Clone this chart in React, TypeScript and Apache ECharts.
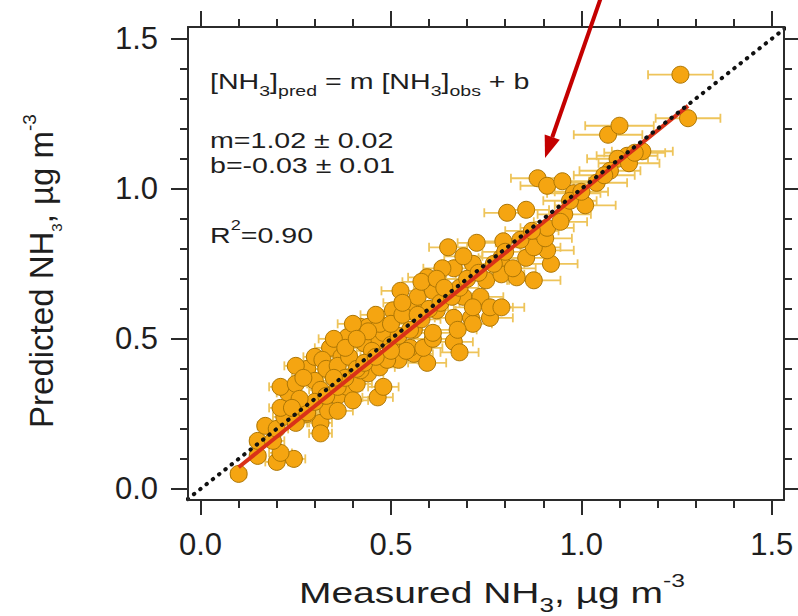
import React, { useEffect, useRef } from "react";
import * as echarts from "echarts";

// ---- data (x = measured, y = predicted, xError = half-width of horizontal error bar)
const measured = [
  0.10, 0.15, 0.20, 0.245, 0.21, 0.15, 0.19, 0.17, 0.20, 0.22,
  0.21, 0.23, 0.21, 0.25, 0.28, 0.25, 0.30, 0.34, 0.385, 0.42,
  0.37, 0.43, 0.47, 0.51, 0.44, 0.40, 0.48, 0.32, 0.36, 0.385,
  0.41, 0.44, 0.47, 0.52, 0.56, 0.55, 0.49, 0.42, 0.30, 0.33,
  0.36, 0.39, 0.45, 0.47, 0.44, 0.505, 0.56, 0.525, 0.57, 0.61,
  0.62, 0.315, 0.315, 0.28, 0.335, 0.36, 0.40, 0.465, 0.48, 0.315,
  0.595, 0.54, 0.585, 0.61, 0.61, 0.56, 0.665, 0.68, 0.665, 0.71,
  0.76, 0.715, 0.675, 0.69, 0.735, 0.76, 0.715, 0.79, 0.75, 0.79,
  0.83, 0.875, 0.665, 0.715, 0.69, 0.79, 0.82, 0.855, 0.92, 0.91,
  0.875, 0.905, 0.795, 0.725, 0.65, 0.91, 0.595, 0.635, 0.805, 0.855,
  0.885, 0.91, 0.95, 0.98, 1.01, 0.955, 1.07, 1.10, 1.16, 1.12,
  1.095, 1.125, 1.075, 1.26, 1.28, 0.25, 0.28, 0.30, 0.33, 0.36,
  0.38, 0.41, 0.43, 0.46, 0.50, 0.52, 0.55, 0.58, 0.60, 0.63,
  0.66, 0.68, 0.70, 0.73, 0.77, 0.80, 0.84, 0.87, 0.945, 0.97,
  1.00, 1.04, 1.06, 1.14, 0.27, 0.35, 0.38, 0.41, 0.46, 0.50,
  0.53, 0.58, 0.62, 0.64, 0.53, 0.35, 0.26, 0.24, 0.50, 0.57,
];
const predicted = [
  0.05, 0.11, 0.09, 0.10, 0.12, 0.16, 0.16, 0.21, 0.20, 0.24,
  0.27, 0.32, 0.34, 0.35, 0.40, 0.41, 0.44, 0.47, 0.505, 0.54,
  0.44, 0.485, 0.495, 0.505, 0.54, 0.55, 0.52, 0.43, 0.31, 0.34,
  0.35, 0.385, 0.405, 0.43, 0.45, 0.47, 0.43, 0.395, 0.36, 0.40,
  0.41, 0.44, 0.46, 0.55, 0.525, 0.595, 0.62, 0.66, 0.64, 0.66,
  0.595, 0.22, 0.185, 0.25, 0.26, 0.26, 0.295, 0.305, 0.34, 0.33,
  0.42, 0.46, 0.47, 0.50, 0.52, 0.53, 0.49, 0.455, 0.57, 0.57,
  0.57, 0.55, 0.53, 0.64, 0.64, 0.605, 0.605, 0.605, 0.695, 0.715,
  0.705, 0.695, 0.735, 0.75, 0.775, 0.77, 0.735, 0.77, 0.75, 0.795,
  0.805, 0.835, 0.825, 0.82, 0.805, 0.87, 0.705, 0.735, 0.92, 0.93,
  1.035, 1.01, 1.025, 0.985, 0.945, 0.915, 1.18, 1.21, 1.125, 1.11,
  1.10, 1.085, 1.06, 1.38, 1.235, 0.22, 0.255, 0.29, 0.31, 0.34,
  0.37, 0.40, 0.42, 0.44, 0.48, 0.51, 0.53, 0.565, 0.60, 0.62,
  0.64, 0.67, 0.70, 0.72, 0.75, 0.79, 0.83, 0.86, 0.89, 0.96,
  0.99, 1.02, 1.045, 1.12, 0.37, 0.50, 0.47, 0.50, 0.58, 0.55,
  0.58, 0.69, 0.70, 0.67, 0.62, 0.37, 0.30, 0.27, 0.46, 0.58,
];
const xError = [
  0.02, 0.02, 0.03, 0.03, 0.03, 0.02, 0.03, 0.02, 0.03, 0.03,
  0.03, 0.03, 0.03, 0.03, 0.03, 0.03, 0.03, 0.04, 0.04, 0.04,
  0.04, 0.04, 0.04, 0.05, 0.04, 0.04, 0.04, 0.03, 0.04, 0.04,
  0.04, 0.04, 0.04, 0.05, 0.05, 0.05, 0.04, 0.04, 0.03, 0.03,
  0.04, 0.04, 0.04, 0.04, 0.04, 0.05, 0.05, 0.05, 0.05, 0.05,
  0.05, 0.03, 0.03, 0.03, 0.03, 0.04, 0.04, 0.04, 0.04, 0.03,
  0.05, 0.05, 0.05, 0.05, 0.05, 0.05, 0.05, 0.05, 0.05, 0.05,
  0.06, 0.05, 0.05, 0.05, 0.06, 0.06, 0.05, 0.06, 0.06, 0.06,
  0.06, 0.07, 0.05, 0.05, 0.05, 0.06, 0.06, 0.06, 0.07, 0.07,
  0.07, 0.07, 0.06, 0.05, 0.05, 0.07, 0.05, 0.05, 0.06, 0.06,
  0.07, 0.07, 0.07, 0.07, 0.08, 0.07, 0.09, 0.09, 0.08, 0.08,
  0.08, 0.08, 0.08, 0.085, 0.085, 0.03, 0.03, 0.03, 0.03, 0.04,
  0.04, 0.04, 0.04, 0.04, 0.04, 0.05, 0.05, 0.05, 0.05, 0.05,
  0.05, 0.05, 0.06, 0.06, 0.06, 0.06, 0.06, 0.07, 0.07, 0.07,
  0.07, 0.08, 0.08, 0.08, 0.03, 0.04, 0.04, 0.04, 0.04, 0.04,
  0.05, 0.05, 0.05, 0.05, 0.05, 0.04, 0.03, 0.03, 0.04, 0.05,
];

const majorTicks = [0, 0.5, 1.0, 1.5];
const minorTicks = [0.1, 0.2, 0.3, 0.4, 0.6, 0.7, 0.8, 0.9, 1.1, 1.2, 1.3, 1.4];
const xRange = [-0.033, 1.532];
const yRange = [-0.037, 1.539];
const fitLine = [[0.1, 0.072], [1.28, 1.276]];
const oneToOneLine = [[-0.1, -0.1], [1.7, 1.7]];
const fitSlopeText = "1.02 ± 0.02";
const fitInterceptText = "-0.03 ± 0.01";
const fitR2Text = "0.90";

const FONT = "'Liberation Sans', Arial, Helvetica, sans-serif";
const AX = "#2b2b2b";
const TXT = "#1e1e1e";

function axis(position: string, range: number[], ticks: number[], len: number, line: boolean, labels: boolean) {
  const isX = position === "bottom" || position === "top";
  return {
    type: "value",
    position,
    min: range[0],
    max: range[1],
    axisLine: { show: line, onZero: false, lineStyle: { color: AX, width: 2 } },
    axisTick: { show: true, customValues: ticks, length: len, lineStyle: { color: AX, width: 2 } },
    axisLabel: labels
      ? {
          show: true,
          customValues: majorTicks,
          formatter: (v: number) => v.toFixed(1),
          fontSize: 31,
          color: TXT,
          fontFamily: FONT,
          margin: isX ? 29 : 30,
        }
      : { show: false },
    splitLine: { show: false },
    z: 5,
  };
}

function rich(main: number, lh: number, sub: number, subLH: number, sup: number, supLH: number) {
  return {
    n: { fontSize: main, lineHeight: lh, fontFamily: FONT, fill: TXT },
    s: { fontSize: sub, lineHeight: subLH, verticalAlign: "bottom", fontFamily: FONT, fill: TXT },
    p: { fontSize: sup, lineHeight: supLH, verticalAlign: "top", fontFamily: FONT, fill: TXT },
  };
}

function textEl(text: string, x: number, y: number, r: any, opts: any = {}) {
  return {
    type: "text",
    x,
    y,
    z: 20,
    ...opts,
    style: {
      text,
      rich: r,
      fill: TXT,
      fontFamily: FONT,
      align: opts.align || "left",
      textAlign: opts.align || "left",
      verticalAlign: opts.vAlign || "top",
      textVerticalAlign: opts.vAlign || "top",
    },
  };
}

export default function App() {
  const ref = useRef<HTMLDivElement>(null);
  useEffect(() => {
    if (!ref.current) return;
    const chart = echarts.init(ref.current, undefined, { renderer: "svg" });
    const pts = measured.map((x, i) => [x, predicted[i]]);
    const errs = measured.map((x, i) => [x, predicted[i], xError[i]]);
    const annRich = rich(22, 34, 15, 25, 14, 8);

    // arrow geometry (pixel annotation)
    const tip = [545, 158];
    const tail = [606, -17];
    const dx = tip[0] - tail[0], dy = tip[1] - tail[1];
    const L = Math.hypot(dx, dy);
    const ux = dx / L, uy = dy / L;
    const headLen = 22, headHalf = 8;
    const base = [tip[0] - headLen * ux, tip[1] - headLen * uy];
    const nx = -uy, ny = ux;

    chart.setOption({
      animation: false,
      backgroundColor: "#ffffff",
      grid: { left: 188, top: 27, right: 14, bottom: 116, containLabel: false, outerBoundsMode: "none" },
      xAxis: [
        axis("bottom", xRange, majorTicks, 15, true, true),
        axis("bottom", xRange, minorTicks, 8, false, false),
        axis("top", xRange, majorTicks, 16, true, false),
        axis("top", xRange, minorTicks, 8, false, false),
      ],
      yAxis: [
        axis("left", yRange, majorTicks, 17, true, true),
        axis("left", yRange, minorTicks, 8, false, false),
        axis("right", yRange, majorTicks, 15, true, false),
        axis("right", yRange, minorTicks, 8, false, false),
      ],
      series: [
        {
          type: "custom",
          name: "x error",
          xAxisIndex: 0,
          yAxisIndex: 0,
          z: 1,
          encode: { x: 0, y: 1 },
          data: errs,
          renderItem: (params: any, api: any) => {
            const x = api.value(0), y = api.value(1), e = api.value(2);
            const a = api.coord([x - e, y]);
            const b = api.coord([x + e, y]);
            const st = { stroke: "#eec45a", lineWidth: 1.8 };
            const cap = 4.5;
            return {
              type: "group",
              children: [
                { type: "line", shape: { x1: a[0], y1: a[1], x2: b[0], y2: b[1] }, style: st },
                { type: "line", shape: { x1: a[0], y1: a[1] - cap, x2: a[0], y2: a[1] + cap }, style: st },
                { type: "line", shape: { x1: b[0], y1: b[1] - cap, x2: b[0], y2: b[1] + cap }, style: st },
              ],
            };
          },
        },
        {
          type: "scatter",
          name: "NH3",
          xAxisIndex: 0,
          yAxisIndex: 0,
          z: 2,
          symbol: "circle",
          symbolSize: 17,
          itemStyle: { color: "#f5a511", borderColor: "#ad7605", borderWidth: 1, opacity: 1 },
          data: pts,
        },
        {
          type: "line",
          name: "fit",
          xAxisIndex: 0,
          yAxisIndex: 0,
          z: 3,
          symbol: "none",
          lineStyle: { color: "#d93218", width: 4 },
          data: fitLine,
        },
        {
          type: "line",
          name: "1:1",
          xAxisIndex: 0,
          yAxisIndex: 0,
          z: 4,
          symbol: "none",
          clip: true,
          lineStyle: { color: "#111111", width: 4, type: [0.5, 7.5], cap: "round" },
          data: oneToOneLine,
        },
      ],
      graphic: [
        textEl("{n|[NH}{s|3}{n|]}{s|pred}{n| = m [NH}{s|3}{n|]}{s|obs}{n| + b}", 210, 64, annRich, { scaleX: 1.3 }),
        textEl("{n|m=" + fitSlopeText + "}", 210, 123, annRich, { scaleX: 1.3 }),
        textEl("{n|b=" + fitInterceptText + "}", 210, 148, annRich, { scaleX: 1.3 }),
        textEl("{n|R}{p|2}{n|=" + fitR2Text + "}", 210, 218, annRich, { scaleX: 1.3 }),
        textEl("{n|Measured NH}{s|3}{n|, µg m}{p|-3}", 492, 571, rich(30, 44, 20, 24, 19, 9), {
          scaleX: 1.3,
          align: "center",
        }),
        textEl("{n|Predicted NH}{s|3}{n|, µg m}{p|-3}", 41.5, 271, rich(33, 44, 15, 21, 19, 9), {
          rotation: Math.PI / 2,
          align: "center",
          vAlign: "middle",
        }),
        {
          type: "line",
          z: 30,
          shape: { x1: tail[0], y1: tail[1], x2: base[0], y2: base[1] },
          style: { stroke: "#c40000", lineWidth: 4 },
        },
        {
          type: "polygon",
          z: 30,
          shape: {
            points: [
              [tip[0], tip[1]],
              [base[0] + headHalf * nx, base[1] + headHalf * ny],
              [base[0] - headHalf * nx, base[1] - headHalf * ny],
            ],
          },
          style: { fill: "#c40000" },
        },
      ],
    });
    return () => chart.dispose();
  }, []);
  return (
    <div
      ref={ref}
      style={{ position: "fixed", left: 0, top: 0, width: 798, height: 616, background: "#fff" }}
    />
  );
}
